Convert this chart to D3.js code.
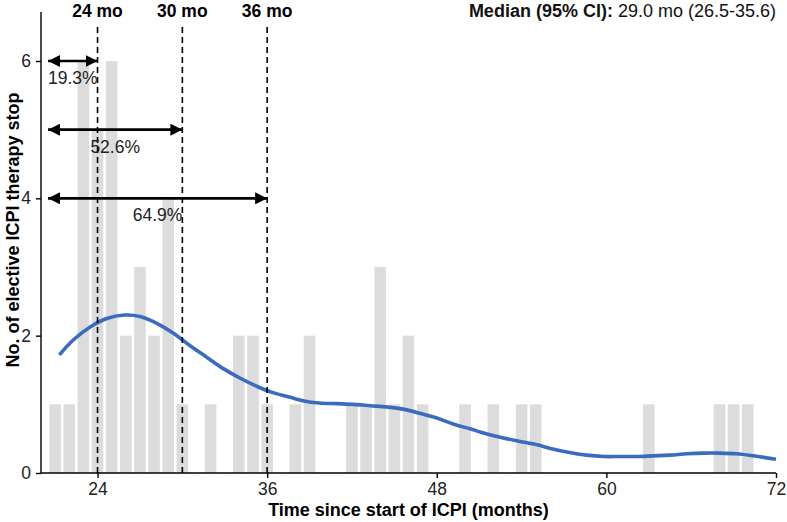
<!DOCTYPE html>
<html>
<head>
<meta charset="utf-8">
<script src="https://cdn.jsdelivr.net/npm/d3@7/dist/d3.min.js"></script>
<style>
  body { margin: 0; background: #fff; }
  svg { display: block; font-family: Arial, "Liberation Sans", sans-serif; }
</style>
</head>
<body>
<svg id="chart" width="787" height="522"></svg>
<script>
// ---- data ----
const months = [21, 22, 23, 24, 25, 26, 27, 28, 29, 30, 32, 34, 35, 36, 38, 39, 42, 43, 44, 45, 46, 47, 50, 52, 54, 55, 63, 68, 69, 70];
const counts = [1, 1, 6, 5, 6, 2, 3, 2, 4, 1, 1, 2, 2, 1, 1, 2, 1, 1, 3, 1, 2, 1, 1, 1, 1, 1, 1, 1, 1, 1];

const curveX = [21.3, 22.3, 23.5, 24.65, 25.9, 27.0, 28.2, 29.4, 30.5, 31.7, 32.9, 34.1, 35.3, 36.4, 37.5, 38.6, 39.7, 40.9, 42.1, 43.3, 44.5, 45.6, 46.8, 48.0, 49.2, 50.4, 51.5, 52.7, 53.9, 55.1, 56.2, 57.4, 58.6, 59.8, 61.0, 62.1, 63.3, 64.5, 65.7, 66.9, 68.0, 69.2, 70.4, 72.0];
const curveY = [1.72, 1.94, 2.13, 2.25, 2.30, 2.28, 2.18, 2.03, 1.86, 1.69, 1.52, 1.38, 1.26, 1.17, 1.11, 1.05, 1.02, 1.01, 1.00, 0.98, 0.96, 0.93, 0.87, 0.80, 0.71, 0.64, 0.57, 0.51, 0.46, 0.41, 0.35, 0.30, 0.26, 0.24, 0.24, 0.24, 0.25, 0.26, 0.28, 0.29, 0.29, 0.28, 0.25, 0.20];

const cutoffs = [24, 30, 36];
const cutoffLabels = ["24 mo", "30 mo", "36 mo"];
const arrowLevels = [6, 5, 4];
const arrowLabels = ["19.3%", "52.6%", "64.9%"];
const arrowStart = 20.5;

const xTicks = [24, 36, 48, 60, 72];
const yTicks = [0, 2, 4, 6];

const xTitle = "Time since start of ICPI (months)";
const yTitle = "No. of elective ICPI therapy stop";
const medianBold = "Median (95% CI):";
const medianText = " 29.0 mo (26.5-35.6)";

// ---- layout ----
const svg = d3.select("#chart");
const mLeft = 41, mRight = 776, mBottom = 473, mTop = 12;
const x = d3.scaleLinear().domain([20, 72]).range([mLeft, mRight]);
const y = d3.scaleLinear().domain([0, 6]).range([mBottom, 61]);
const barW = 0.82;

// bars
svg.append("g").selectAll("rect").data(months).join("rect")
  .attr("x", (d) => x(d - barW / 2))
  .attr("width", x(barW) - x(0))
  .attr("y", (d, i) => y(counts[i]))
  .attr("height", (d, i) => y(0) - y(counts[i]))
  .attr("fill", "#dcdcdc");

// density curve
const pts = curveX.map((d, i) => [d, curveY[i]]);
svg.append("path")
  .datum(pts)
  .attr("fill", "none")
  .attr("stroke", "#3a6bbf")
  .attr("stroke-width", 3.6)
  .attr("stroke-linecap", "butt")
  .attr("d", d3.line().x(d => x(d[0])).y(d => y(d[1])).curve(d3.curveCatmullRom.alpha(0.5)));

// dashed cutoff lines
svg.append("g").selectAll("line").data(cutoffs).join("line")
  .attr("x1", d => x(d)).attr("x2", d => x(d))
  .attr("y1", y(0)).attr("y2", y(6.5))
  .attr("stroke", "#000").attr("stroke-width", 1.6)
  .attr("stroke-dasharray", "6,4");

// cutoff labels
svg.append("g").selectAll("text").data(cutoffs).join("text")
  .attr("x", d => x(d)).attr("y", 17)
  .attr("text-anchor", "middle")
  .attr("font-size", 17.5).attr("font-weight", "bold")
  .text((d, i) => cutoffLabels[i]);

// arrows
const defs = svg.append("defs");
defs.append("marker").attr("id", "ah").attr("viewBox", "0 0 12 12")
  .attr("refX", 12).attr("refY", 6).attr("markerWidth", 12).attr("markerHeight", 12)
  .attr("markerUnits", "userSpaceOnUse").attr("orient", "auto-start-reverse")
  .append("path").attr("d", "M0,0 L12,6 L0,12 Z").attr("fill", "#000");

svg.append("g").selectAll("line").data(cutoffs).join("line")
  .attr("x1", x(arrowStart)).attr("x2", d => x(d))
  .attr("y1", (d, i) => y(arrowLevels[i])).attr("y2", (d, i) => y(arrowLevels[i]))
  .attr("stroke", "#000").attr("stroke-width", 2.6)
  .attr("marker-start", "url(#ah)").attr("marker-end", "url(#ah)");

svg.append("g").selectAll("text").data(cutoffs).join("text")
  .attr("x", d => x((arrowStart + d) / 2))
  .attr("y", (d, i) => y(arrowLevels[i]) + 23)
  .attr("text-anchor", "middle")
  .attr("font-size", 17.5).attr("fill", "#222")
  .text((d, i) => arrowLabels[i]);

// median text
const mt = svg.append("text").attr("x", mRight).attr("y", 17)
  .attr("text-anchor", "end").attr("font-size", 18).attr("fill", "#111");
mt.append("tspan").attr("font-weight", "bold").text(medianBold);
mt.append("tspan").text(medianText);

// axes
const xAxis = svg.append("g").attr("transform", `translate(0,${mBottom})`)
  .call(d3.axisBottom(x).tickValues(xTicks).tickFormat(d3.format("d")).tickSize(5).tickPadding(5).tickSizeOuter(0));
const yAxis = svg.append("g").attr("transform", `translate(${mLeft},0)`)
  .call(d3.axisLeft(y).tickValues(yTicks).tickFormat(d3.format("d")).tickSize(5).tickPadding(5).tickSizeOuter(0));
[xAxis, yAxis].forEach(a => {
  a.select(".domain").attr("stroke", "#000").attr("stroke-width", 1.4);
  a.selectAll(".tick line").attr("stroke", "#000").attr("stroke-width", 1.4);
  a.selectAll("text").attr("font-size", 17.5).attr("fill", "#222")
    .attr("font-family", "Arial, 'Liberation Sans', sans-serif");
});
xAxis.select(".domain").attr("d", `M${mLeft},0H${mRight}`);
yAxis.select(".domain").attr("d", `M0,${mTop}V${mBottom}`);

// axis titles
svg.append("text").attr("x", (mLeft + mRight) / 2).attr("y", 516)
  .attr("text-anchor", "middle").attr("font-size", 18).attr("font-weight", "bold")
  .text(xTitle);
svg.append("text").attr("transform", "translate(19,230) rotate(-90)")
  .attr("text-anchor", "middle").attr("font-size", 18).attr("font-weight", "bold")
  .text(yTitle);
</script>
</body>
</html>
